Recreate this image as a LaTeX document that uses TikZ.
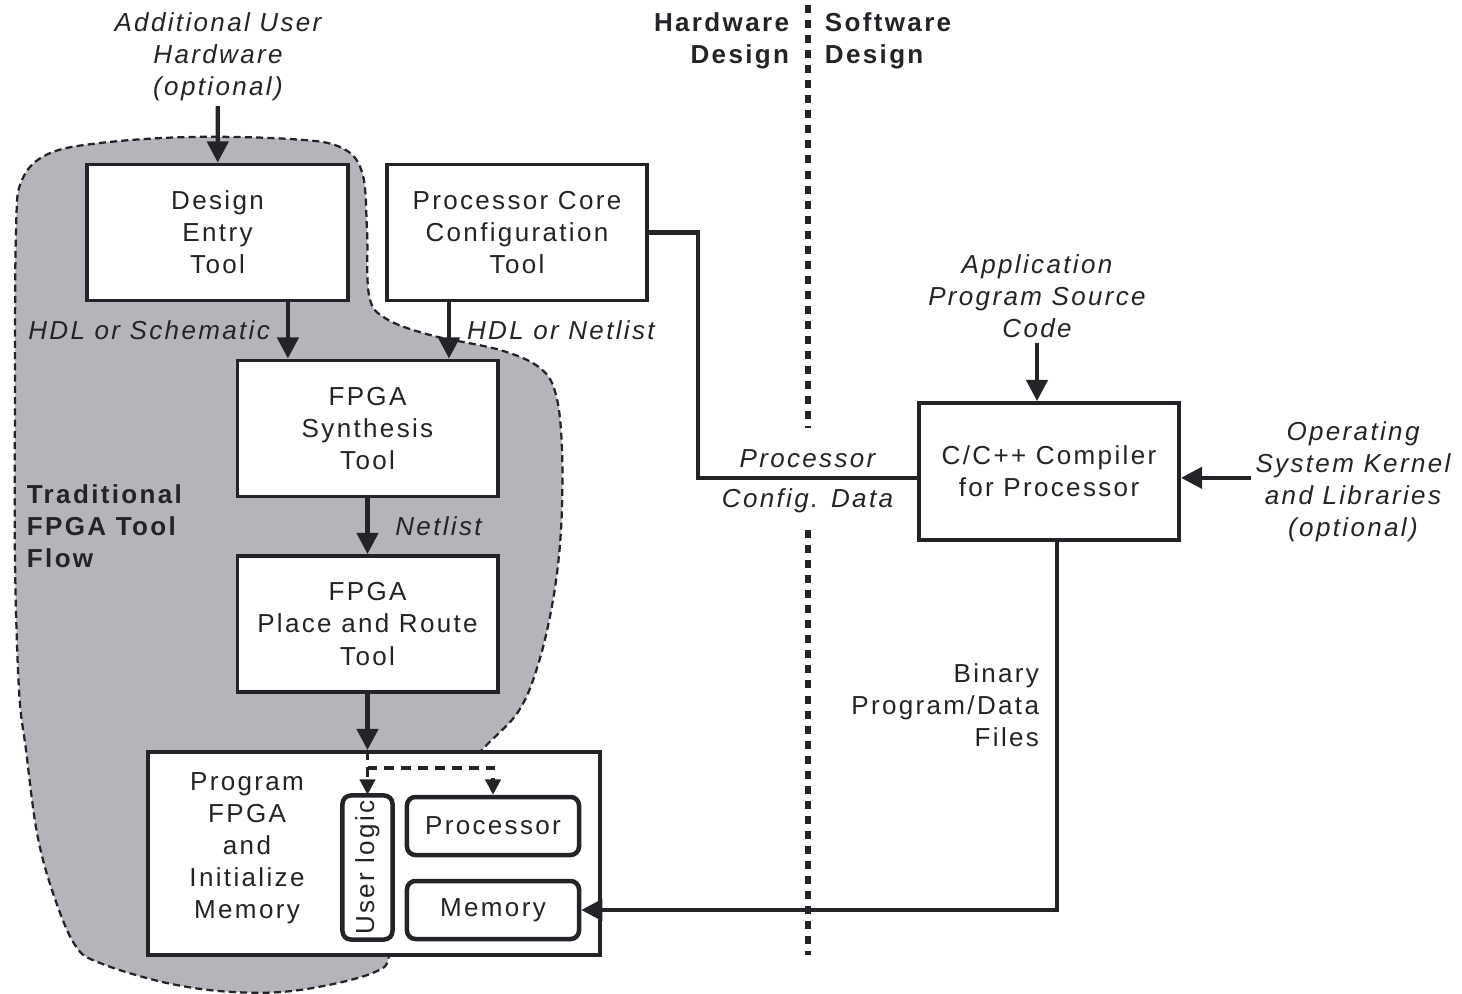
\documentclass[tikz,border=0pt]{standalone}
\usepackage{fontspec}
\setmainfont{Liberation Sans}[LetterSpace=9]
\usetikzlibrary{arrows.meta,positioning}
\definecolor{ink}{RGB}{35,36,40}
\definecolor{flowgray}{RGB}{180,181,186}
\newcommand{\txtsize}{\fontsize{18.5pt}{22.8pt}\selectfont}
\tikzset{
  tool/.style={draw=ink, line width=2.8pt, rectangle, fill=white, minimum width=6.5cm, minimum height=3.4cm, align=center, text=ink, font=\txtsize},
  board/.style={draw=ink, line width=2.8pt, rectangle, fill=white, minimum width=11.3cm, minimum height=5.075cm},
  unit/.style={draw=ink, line width=3.2pt, rectangle, rounded corners=6pt, fill=white, text=ink, font=\txtsize, inner sep=0pt},
  flow/.style={-{Triangle[length=15pt, width=15pt]}, line width=3pt, draw=ink},
  wire/.style={line width=3pt, draw=ink},
  load/.style={-{Triangle[length=11pt, width=11pt]}, line width=2.2pt, draw=ink, dash pattern=on 7pt off 5pt},
  note/.style={font=\txtsize\itshape, align=center, text=ink},
  plain/.style={font=\txtsize, text=ink},
  head/.style={font=\txtsize\bfseries, text=ink},
  divider/.style={line width=3.6pt, draw=ink, dash pattern=on 5.7pt off 5pt}
}
\begin{document}
\begin{tikzpicture}[x=0.025cm, y=-0.025cm]
  \useasboundingbox (0,0) rectangle (1462,994);

  % traditional tool flow region
  \path[fill=flowgray, draw=ink, line width=1.6pt, dash pattern=on 5pt off 3pt]
    plot[smooth cycle, tension=0.6] coordinates {
      (16,230) (22,180) (48,154) (100,143) (190,137) (290,139) (340,147) (362,172)
      (367,230) (369,295) (385,318) (430,335) (500,350) (540,368) (556,395) (562,450)
      (561,530) (553,600) (538,665) (518,712) (482,750) (450,790) (420,860) (392,948)
      (375,972) (300,990) (233,992) (167,983) (100,963) (75,945) (53,893) (37,833)
      (26,750) (19,690) (15,560) (15,400)};

  % hardware / software split
  \draw[divider] (808,5) -- (808,428);
  \draw[divider] (808,530) -- (808,955);
  \node[head, align=right, anchor=east] (hw) at (794,41) {Hardware\\Design};
  \node[head, align=left, anchor=west] (sw) at (820,41) {Software\\Design};
  \node[head, align=left, anchor=west] (trad) at (22,526) {Traditional\\FPGA Tool\\Flow};

  % tools
  \node[note] (addhw) at (218,57) {Additional User\\Hardware\\(optional)};
  \node[tool] (design) at (217.5,232.5) {Design\\Entry\\Tool};
  \node[tool] (core) at (517,232.5) {Processor Core\\Configuration\\Tool};
  \node[tool] (synth) at (367.5,428.5) {FPGA\\Synthesis\\Tool};
  \node[tool] (pnr) at (367.5,624) {FPGA\\Place and Route\\Tool};
  \node[tool, minimum height=3.425cm] (comp) at (1049,471.5) {C/C++ Compiler\\for Processor};
  \node[note] (app) at (1037,296) {Application\\Program Source\\Code};
  \node[note] (os) at (1353,482) {Operating\\System Kernel\\and Libraries\\(optional)};
  \node[plain, align=right, anchor=east] (bin) at (1044,705) {Binary\\Program/Data\\Files};

  % target device
  \node[board] (prog) at (374,853.5) {};
  \node[plain, align=center] (progtxt) at (247,848) {Program\\FPGA\\and\\Initialize\\Memory};
  \node[unit, rotate=90, minimum width=3.6cm, minimum height=1.25cm] (logic) at (367.5,867.5) {User logic};
  \node[unit, minimum width=4.3cm, minimum height=1.45cm] (cpu) at (493,826) {Processor};
  \node[unit, minimum width=4.3cm, minimum height=1.45cm] (mem) at (493,910) {Memory};

  % connections
  \draw[flow] (addhw) -- (design);
  \draw[flow] ([xshift=1.76cm]design.south) coordinate (hdl) -- (hdl |- synth.north)
    node[midway, left=8pt, note] {HDL or Schematic};
  \draw[flow] ([xshift=-1.7cm]core.south) coordinate (net) -- (net |- synth.north)
    node[midway, right=8pt, note] {HDL or Netlist};
  \draw[flow] (synth) -- (pnr) node[midway, right=15pt, note] {Netlist};
  \draw[flow] (pnr.south) -- (pnr.south |- prog.north) coordinate (tap);
  \draw[load] (tap) -- ++(0,18) coordinate (split) -- (split |- cpu.north);
  \draw[load] (split) -- (split -| cpu.north) -- (cpu.north);
  \draw[wire] (core.east) -- ++(49,0) |- ([yshift=-4.5pt]comp.west)
    node[pos=0.75, above=2pt, note] {Processor}
    node[pos=0.75, below=3pt, note] {Config. Data};
  \draw[flow] (app.south) -- (app.south |- comp.north);
  \coordinate (osin) at ([yshift=-4.5pt]comp.east);
  \draw[flow] (os.west |- osin) -- (osin);
  \draw[flow] ([xshift=0.2cm]comp.south) |- (mem.east);
\end{tikzpicture}
\end{document}
